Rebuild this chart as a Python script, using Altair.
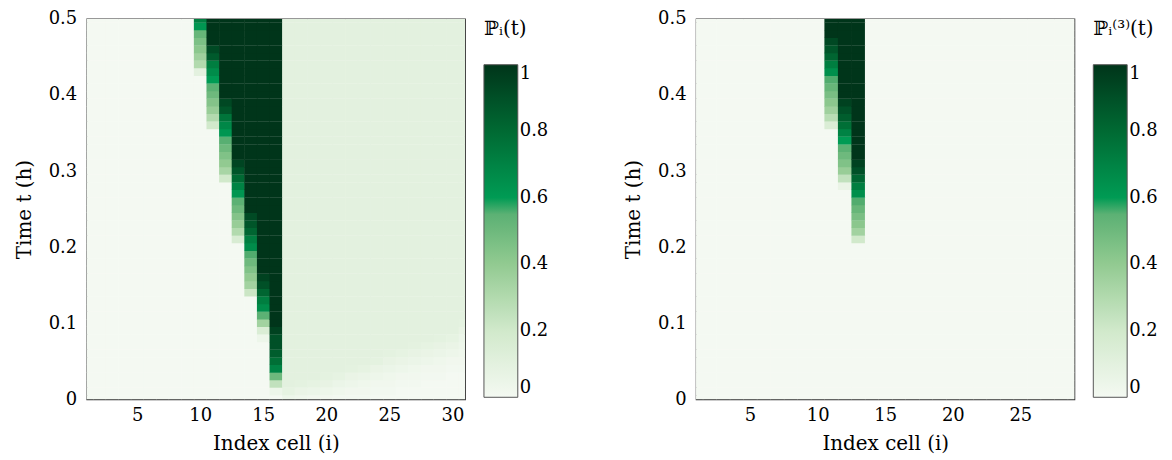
import altair as alt
import pandas as pd

# ---------------- data ----------------
TIMES = [round(0.01 * k, 2) for k in range(51)]          # time grid (h)
LEFT_CELLS = list(range(1, 32))
RIGHT_CELLS = list(range(1, 30))
DARK = 1.0

# Left panel: first non-zero row of each swept cell and its values upward
LEFT_ONSET = {10: 0.43, 11: 0.36, 12: 0.29, 13: 0.21, 14: 0.14, 15: 0.08, 16: 0.01}
LEFT_RAMP = {
    10: [0.10, 0.30, 0.36, 0.42, 0.46, 0.52, 0.62, 0.72],
    11: [0.20, 0.30, 0.38, 0.44, 0.50, 0.55, 0.60, 0.66, 0.72, 0.86, 0.92],
    12: [0.20, 0.33, 0.40, 0.45, 0.50, 0.56, 0.62, 0.68, 0.76, 0.88, 0.93],
    13: [0.16, 0.30, 0.38, 0.44, 0.50, 0.55, 0.62, 0.70, 0.80, 0.88, 0.94],
    14: [0.22, 0.35, 0.40, 0.45, 0.50, 0.58, 0.66, 0.72, 0.82, 0.88, 0.92],
    15: [0.04, 0.15, 0.35, 0.55, 0.66, 0.72, 0.82, 0.90, 0.95],
    16: [0.04, 0.25, 0.50, 0.70, 0.78, 0.85, 0.90, 0.90, 0.95],
}
# Left panel, downstream cells: values from t = 0 upward, then the plateau level
DOWN_LEVEL = 0.10
LEFT_DOWN = {
    17: [0.04, 0.08],
    18: [0.03, 0.06, 0.09],
    19: [0.02, 0.05, 0.08],
    20: [0.02, 0.04, 0.07, 0.09],
    21: [0.01, 0.03, 0.05, 0.08],
    22: [0.01, 0.02, 0.04, 0.06, 0.09],
    23: [0.01, 0.02, 0.03, 0.05, 0.08],
    24: [0.00, 0.01, 0.02, 0.04, 0.06, 0.09],
    25: [0.00, 0.01, 0.02, 0.03, 0.05, 0.07, 0.09],
    26: [0.00, 0.00, 0.01, 0.02, 0.04, 0.06, 0.08],
    27: [0.00, 0.00, 0.01, 0.02, 0.03, 0.05, 0.07, 0.09],
    28: [0.00, 0.00, 0.00, 0.01, 0.02, 0.04, 0.06, 0.08],
    29: [0.00, 0.00, 0.00, 0.01, 0.02, 0.03, 0.05, 0.07, 0.09],
    30: [0.00, 0.00, 0.00, 0.00, 0.01, 0.02, 0.04, 0.06, 0.08],
    31: [0.00, 0.00, 0.00, 0.00, 0.01, 0.02, 0.03, 0.04, 0.05, 0.07, 0.09],
}

# Right panel
RIGHT_ONSET = {11: 0.36, 12: 0.28, 13: 0.21}
RIGHT_RAMP = {
    11: [0.15, 0.28, 0.36, 0.42, 0.47, 0.52, 0.58, 0.65, 0.72, 0.82, 0.88, 0.93],
    12: [0.06, 0.25, 0.38, 0.45, 0.50, 0.55, 0.60, 0.70, 0.78, 0.85, 0.90, 0.95],
    13: [0.20, 0.35, 0.42, 0.47, 0.52, 0.58, 0.65, 0.72, 0.82, 0.90, 0.95],
}

LEFT_XTICKS = [5, 10, 15, 20, 25, 30]
RIGHT_XTICKS = [5, 10, 15, 20, 25]
YTICKS = [0, 0.1, 0.2, 0.3, 0.4, 0.5]
LEG_VALUES = [0, 0.2, 0.4, 0.6, 0.8, 1]

# tiny overlap of neighbouring cells so no seams show in the SVG
OVX, OVY = 0.04, 0.0004


def build(cells, onset, ramp, down):
    rows = []
    for c in cells:
        for k, t in enumerate(TIMES):
            if c in ramp:
                k0 = TIMES.index(onset[c])
                j = k - k0
                if j < 0:
                    v = 0.0
                elif j < len(ramp[c]):
                    v = ramp[c][j]
                else:
                    v = DARK
            elif c in down:
                lst = down[c]
                v = lst[k] if k < len(lst) else DOWN_LEVEL
            else:
                v = 0.0
            rows.append({"cell": c, "t": t, "v": v,
                         "x0": c - 0.5, "x1": c + 0.5 + OVX,
                         "y0": t - 0.005, "y1": t + 0.005 + OVY})
    return pd.DataFrame(rows)


left_df = build(LEFT_CELLS, LEFT_ONSET, LEFT_RAMP, LEFT_DOWN)
right_df = build(RIGHT_CELLS, RIGHT_ONSET, RIGHT_RAMP, {})

cscale = alt.Scale(
    domain=[0, 0.2, 0.4, 0.599, 0.6, 0.8, 1],
    range=["#f4f9f2", "#d1e9cb", "#92ca91", "#4aa96a", "#009b54", "#006a33", "#00351a"],
    interpolate="rgb",
)


def panel(df, xmax, xticks, title):
    return alt.Chart(df).mark_rect(clip=True).encode(
        x=alt.X("x0:Q", scale=alt.Scale(domain=[1, xmax], nice=False, zero=False),
                axis=alt.Axis(values=xticks, title="Index cell (i)")),
        x2="x1",
        y=alt.Y("y0:Q", scale=alt.Scale(domain=[0, 0.5], nice=False, zero=False),
                axis=alt.Axis(values=YTICKS, format="~g", title="Time t (h)")),
        y2="y1",
        color=alt.Color("v:Q", scale=cscale,
                        legend=alt.Legend(title=title, values=LEG_VALUES, format="~g",
                                          type="gradient")),
    ).properties(width=380, height=382)


left = panel(left_df, 31, LEFT_XTICKS, "ℙᵢ(t)")
right = panel(right_df, 29, RIGHT_XTICKS, "ℙᵢ⁽³⁾(t)")

FONT = "DejaVu Serif"
chart = (
    alt.hconcat(left, right, spacing=73)
    .resolve_scale(color="independent")
    .properties(padding={"top": 0, "left": 5, "right": 5, "bottom": 0})
    .configure_axis(labelFont=FONT, titleFont=FONT, labelFontSize=18, titleFontSize=20,
                    titleFontWeight="normal", ticks=False, domain=False, grid=False,
                    labelColor="black", titleColor="black")
    .configure_axisY(labelPadding=10, titlePadding=14)
    .configure_axisX(labelPadding=7, titlePadding=9)
    .configure_view(stroke="#333333", strokeWidth=1.2)
    .configure_legend(orient="right", offset=19, gradientLength=334, gradientThickness=34,
                      titleFont=FONT, labelFont=FONT, titleFontSize=20, labelFontSize=18,
                      titleFontWeight="normal", titleColor="black", labelColor="black",
                      labelOffset=11, titlePadding=26, gradientStrokeColor="#555555",
                      gradientStrokeWidth=1)
)

chart.save("out.html", embed_options={"renderer": "svg", "actions": False})
